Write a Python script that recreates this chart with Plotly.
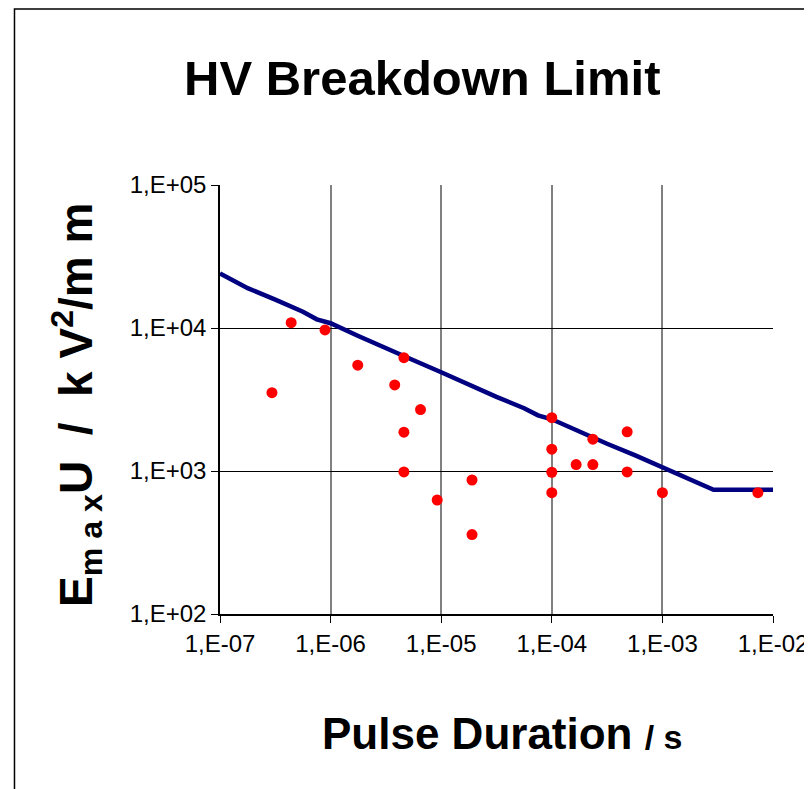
import plotly.graph_objects as go

# Measured points: pulse duration [s], Emax^2*U [kV^2/mm]
pulse_s = [2.95e-7, 4.4e-7, 8.9e-7, 1.76e-6, 3.8e-6, 4.6e-6, 4.6e-6, 4.6e-6,
           6.5e-6, 9.2e-6, 1.9e-5, 1.9e-5, 1.0e-4, 1.0e-4, 1.0e-4, 1.0e-4,
           1.66e-4, 2.35e-4, 2.35e-4, 4.8e-4, 4.8e-4, 1.0e-3, 7.3e-3]
value = [3530, 10900, 9700, 5500, 4000, 6200, 1870, 985,
         2690, 627, 865, 359, 2360, 1420, 980, 705,
         1110, 1110, 1670, 1880, 985, 705, 705]

# Breakdown limit curve
limit_t = [1.0e-7, 1.78e-7, 3.16e-7, 5.62e-7, 7.5e-7, 1.0e-6, 1.78e-6, 3.16e-6, 5.62e-6,
           1.0e-5, 1.78e-5, 3.16e-5, 5.62e-5, 7.5e-5, 1.0e-4, 1.78e-4, 3.16e-4, 5.62e-4,
           1.0e-3, 1.78e-3, 2.9e-3, 1.0e-2]
limit_v = [24100, 19000, 15800, 13000, 11500, 10800, 8800, 7300, 5950,
           4900, 4000, 3300, 2750, 2450, 2300, 1880, 1550, 1290,
           1060, 870, 740, 740]

x_ticks = [1e-7, 1e-6, 1e-5, 1e-4, 1e-3, 1e-2]
x_labels = ["1,E-07", "1,E-06", "1,E-05", "1,E-04", "1,E-03", "1,E-02"]
y_ticks = [1e2, 1e3, 1e4, 1e5]
y_labels = ["1,E+02", "1,E+03", "1,E+04", "1,E+05"]

FONT = "Liberation Sans, Arial, sans-serif"

# page has an 8px body margin: compensate (figure may extend past the window)
OFF = 8
W, H = 812, 789 - OFF
L, R, T, B = 220 - OFF, 812 + OFF - 777, 185 - OFF, 789 - 614

def px_x(p):
    return (p - 220) / 557

def px_y(p):
    return (614 - p) / 429

fig = go.Figure()
fig.add_trace(go.Scatter(x=limit_t, y=limit_v, mode="lines",
                         line=dict(color="#000080", width=4.5), hoverinfo="skip"))
fig.add_trace(go.Scatter(x=pulse_s, y=value, mode="markers",
                         marker=dict(color="#ff0000", size=11, symbol="circle",
                                     line=dict(width=0))))

fig.update_layout(
    width=W, height=H,
    margin=dict(l=L, r=R, t=T, b=B),
    paper_bgcolor="white", plot_bgcolor="white",
    showlegend=False,
    font=dict(family=FONT, color="black"),
)
fig.update_xaxes(type="log", range=[-7, -2], tickvals=x_ticks, ticktext=x_labels,
                 showgrid=True, gridcolor="#808080", gridwidth=1.5,
                 showline=True, linecolor="black", linewidth=1.5,
                 ticks="outside", ticklen=7, tickcolor="black",
                 ticklabeloverflow="allow",
                 tickfont=dict(size=24, family=FONT), zeroline=False)
fig.update_yaxes(type="log", range=[2, 5], tickvals=y_ticks, ticktext=y_labels,
                 showgrid=True, gridcolor="black", gridwidth=1,
                 showline=True, linecolor="black", linewidth=1.5,
                 ticks="outside", ticklen=7, tickcolor="black",
                 tickfont=dict(size=24, family=FONT), zeroline=False)

fig.add_annotation(text="<b>HV Breakdown Limit</b>",
                   xref="paper", yref="paper", x=px_x(423), y=px_y(78),
                   xanchor="center", yanchor="middle",
                   showarrow=False, font=dict(size=49, family=FONT))
fig.add_annotation(text="<b>E<sub>m a x</sub>U  /  k V<sup>2</sup>/m m</b>",
                   xref="paper", yref="paper", x=px_x(75), y=px_y(405),
                   xanchor="center", yanchor="middle", textangle=-90,
                   showarrow=False, font=dict(size=46, family=FONT))
fig.add_annotation(text="<b>Pulse Duration <span style='font-size:34px'>/ s</span></b>",
                   xref="paper", yref="paper", x=px_x(505), y=px_y(733),
                   xanchor="center", yanchor="middle",
                   showarrow=False, font=dict(size=44, family=FONT))

# outer frame
fig.add_shape(type="rect", xref="paper", yref="paper",
              x0=px_x(13), x1=px_x(860), y0=px_y(820), y1=px_y(9),
              line=dict(color="black", width=1.5), layer="below")

fig.write_html("out.html")
